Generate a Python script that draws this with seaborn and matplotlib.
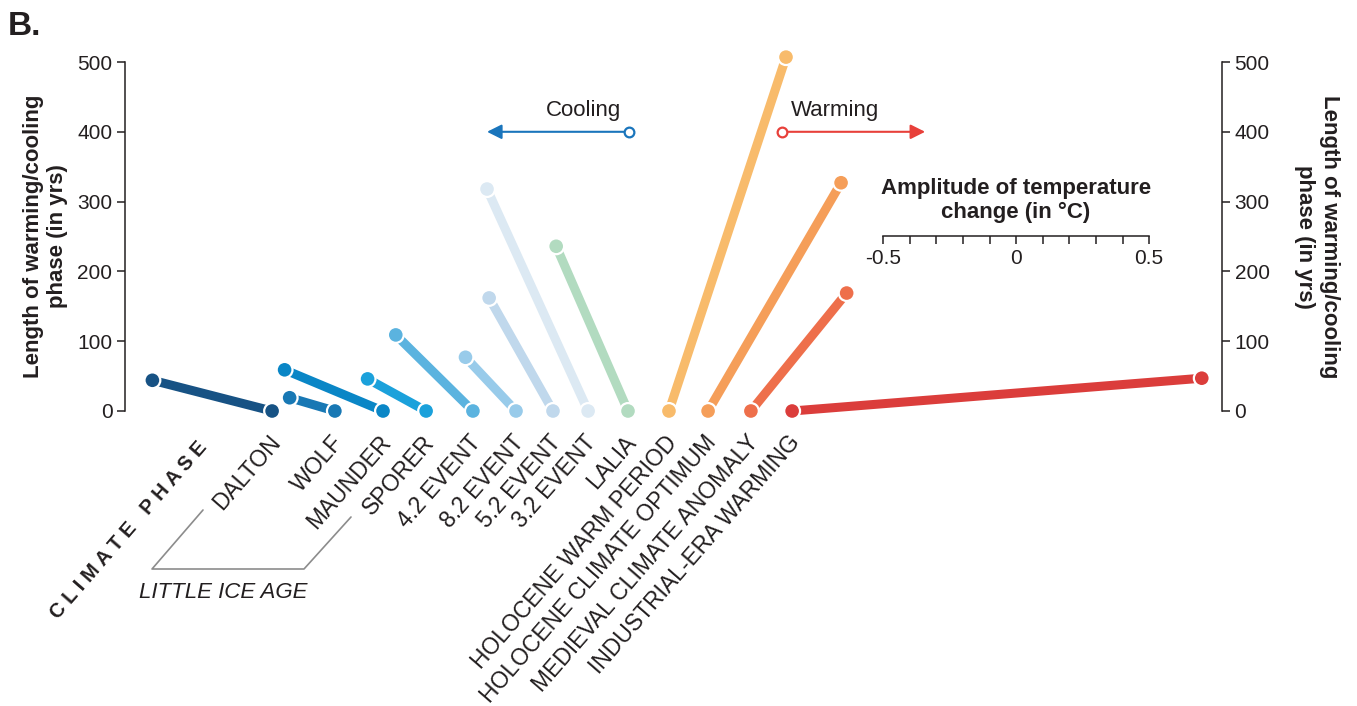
import numpy as np
import pandas as pd
import matplotlib
matplotlib.use('Agg')
import matplotlib.pyplot as plt
import seaborn as sns
from matplotlib.ticker import MultipleLocator

# climate phases, left to right along the baseline
phases = ['DALTON', 'WOLF', 'MAUNDER', 'SPORER', '4.2 EVENT', '8.2 EVENT',
          '5.2 EVENT', '3.2 EVENT', 'LALIA', 'HOLOCENE WARM PERIOD',
          'HOLOCENE CLIMATE OPTIMUM', 'MEDIEVAL CLIMATE ANOMALY',
          'INDUSTRIAL-ERA WARMING']
# baseline position of each phase (in the units of the degC scale bar)
phase_x = [0.553, 0.789, 0.970, 1.132, 1.308, 1.470, 1.609, 1.741, 1.891,
           2.045, 2.192, 2.353, 2.508]
# amplitude of temperature change (degC) and length of the phase (yrs)
amplitude = [-0.45, -0.17, -0.37, -0.22, -0.29, -0.19, -0.24, -0.38, -0.27,
             0.44, 0.50, 0.36, 1.54]
length_yrs = [44, 19, 59, 46, 109, 77, 162, 318, 236, 507, 327, 169, 47]
phase_colors = ['#175284', '#1878b4', '#0a86c6', '#1ba1db', '#5bb3df',
                '#98cbea', '#c0d8ec', '#dce9f3', '#b2dbc0', '#f8bb6b',
                '#f59e59', '#ee6f4b', '#db3d3b']

y_ticks = [0, 100, 200, 300, 400, 500]
amp_ticks = [-0.5, 0, 0.5]
amp_labels = ['-0.5', '0', '0.5']

# one row for the start (on the baseline) and one for the end of each segment
rows = []
for name, bx, amp, yrs in zip(phases, phase_x, amplitude, length_yrs):
    rows.append({'phase': name, 'x': bx, 'y': 0})
    rows.append({'phase': name, 'x': bx + amp, 'y': yrs})
df = pd.DataFrame(rows)
palette = dict(zip(phases, phase_colors))

sns.set_theme(style='white')
plt.rcParams['font.family'] = ['Liberation Sans', 'DejaVu Sans']
plt.rcParams['axes.unicode_minus'] = False
ink = '#231f20'

fig = plt.figure(figsize=(13.57, 7.06), dpi=100)
ax = fig.add_axes([125 / 1357, 1 - 411 / 706, 1097 / 1357, 349 / 706])
ax.patch.set_alpha(0)

sns.lineplot(data=df, x='x', y='y', hue='phase', hue_order=phases,
             palette=palette, sort=False, estimator=None, lw=6.5,
             solid_capstyle='butt', legend=False, ax=ax, clip_on=False,
             zorder=2)
sns.scatterplot(data=df, x='x', y='y', hue='phase', hue_order=phases,
                palette=palette, s=130, edgecolor='white', linewidth=1.6,
                legend=False, ax=ax, clip_on=False, zorder=3)

ax.set_xlim(0, 1097 / 266)
ax.set_ylim(0, 500)
ax.set_xticks([])
ax.set_xlabel('')
ax.set_yticks(y_ticks)
for s in ['top', 'right', 'bottom']:
    ax.spines[s].set_visible(False)
ax.spines['left'].set_color(ink)
ax.spines['left'].set_linewidth(1.1)
ax.tick_params(axis='y', left=True, length=6, width=1.1, color=ink,
               labelsize=15, labelcolor=ink, pad=3)
ax.set_ylabel('Length of warming/cooling\nphase (in yrs)', fontsize=16,
              fontweight='bold', color=ink)
ax.yaxis.set_label_coords(-0.052, 0.5)

ax2 = ax.twinx()
ax2.set_ylim(0, 500)
ax2.set_yticks(y_ticks)
for s in ['top', 'left', 'bottom']:
    ax2.spines[s].set_visible(False)
ax2.spines['right'].set_color(ink)
ax2.spines['right'].set_linewidth(1.1)
ax2.tick_params(axis='y', right=True, length=6, width=1.1, color=ink,
                labelsize=15, labelcolor=ink, pad=3)
ax2.set_ylabel('Length of warming/cooling\nphase (in yrs)', fontsize=16,
               fontweight='bold', color=ink, rotation=-90, va='bottom')
ax2.yaxis.set_label_coords(1.066, 0.5)

# phase names under the baseline
for name, bx in zip(phases, phase_x):
    ax.annotate(name, xy=(bx, 0), xytext=(3, -20), textcoords='offset points',
                rotation=49, rotation_mode='anchor', ha='right', va='center',
                fontsize=16.5, color=ink, annotation_clip=False)

# cooling / warming arrows
blue, red = '#1a75bc', '#e8403a'
ax.annotate('', xy=(1.361, 400), xytext=(1.895, 400),
            arrowprops=dict(arrowstyle='-|>', color=blue, lw=1.5,
                            mutation_scale=22, shrinkA=0, shrinkB=0))
ax.plot([1.895], [400], marker='o', ms=7, mfc='white', mec=blue, mew=1.6,
        zorder=4)
ax.text(1.722, 431, 'Cooling', fontsize=16, color=ink, ha='center', va='center')
ax.annotate('', xy=(3.008, 400), xytext=(2.47, 400),
            arrowprops=dict(arrowstyle='-|>', color=red, lw=1.5,
                            mutation_scale=22, shrinkA=0, shrinkB=0))
ax.plot([2.47], [400], marker='o', ms=7, mfc='white', mec=red, mew=1.6,
        zorder=4)
ax.text(2.669, 431, 'Warming', fontsize=16, color=ink, ha='center', va='center')

# scale bar for the amplitude of temperature change
amp_ax = ax.inset_axes([3.35 - 0.5, 250, 1.0, 30], transform=ax.transData)
amp_ax.set_xlim(-0.5, 0.5)
amp_ax.set_ylim(0, 1)
amp_ax.patch.set_alpha(0)
for s in ['top', 'left', 'right']:
    amp_ax.spines[s].set_visible(False)
amp_ax.spines['bottom'].set_color(ink)
amp_ax.spines['bottom'].set_linewidth(1.1)
amp_ax.set_yticks([])
amp_ax.set_xticks(amp_ticks, amp_labels)
amp_ax.xaxis.set_minor_locator(MultipleLocator(0.1))
amp_ax.tick_params(axis='x', which='both', bottom=True, length=6, width=1.1,
                   color=ink, labelsize=15, labelcolor=ink, pad=3)
ax.text(3.35, 302, 'Amplitude of temperature\nchange (in °C)', fontsize=16,
        fontweight='bold', color=ink, ha='center', va='center',
        linespacing=1.2)

# little ice age bracket
bx_px = [203, 152, 304, 351]
by_px = [510, 569, 569, 517]
fig.add_artist(plt.Line2D([p / 1357 for p in bx_px], [1 - p / 706 for p in by_px],
                          transform=fig.transFigure, color='#8c8c8c', lw=1.2))
fig.text(223 / 1357, 1 - 592 / 706, 'LITTLE ICE AGE', fontsize=16,
         style='italic', color=ink, ha='center', va='center')

fig.text(129 / 1357, 1 - 530 / 706,
         ' '.join('CLIMATE') + '   ' + ' '.join('PHASE'),
         fontsize=14.5, fontweight='bold', color=ink, rotation=49,
         rotation_mode='anchor', ha='center', va='center')

fig.text(0.006, 0.985, 'B.', fontsize=24, fontweight='bold', color=ink,
         va='top', ha='left')

fig.savefig('out.png', dpi=100)
